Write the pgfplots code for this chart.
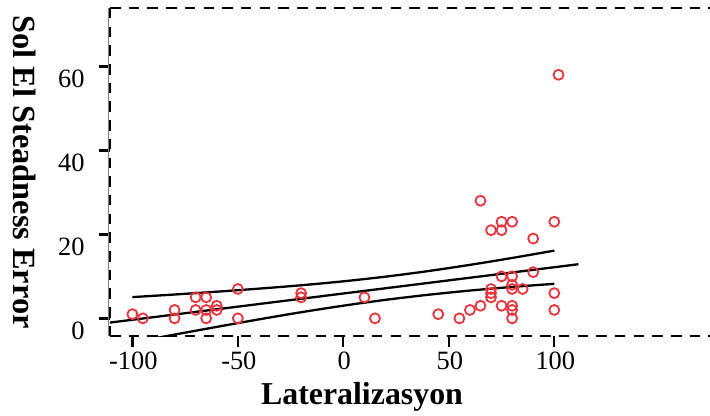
\documentclass[border=0pt]{standalone}
\usepackage{pgfplots}
\pgfplotsset{compat=1.18}
\usepackage{fontspec}
\setmainfont{Liberation Serif}
\definecolor{ptred}{RGB}{232,52,60}
\begin{document}
\begin{tikzpicture}
\begin{axis}[
  name=ax,
  scale only axis, width=600bp, height=328bp,
  xmin=-110.6, xmax=173.8, ymin=-4.2, ymax=73.9,
  axis line style={draw=none},
  xtick={-100,-50,0,50,100}, xticklabels={-100,-50,0,50,100},
  ytick={0,20,40,60}, yticklabels={0,20,40,60},
  xtick pos=bottom, ytick pos=left, tick align=outside,
  major tick length=11bp,
  tick style={black, line width=2.3bp},
  minor tick num=0,
  ticklabel style={font=\fontsize{26.5}{30}\selectfont},
  xticklabel style={xshift=1bp, yshift=-1bp},
  yticklabel style={yshift=-12bp, xshift=-11bp},
  xlabel={Lateralizasyon},
  ylabel={Sol El Steadness Error},
  every axis x label/.style={at={(rel axis cs:0.42,-0.185)}, anchor=center, font=\fontsize{32}{36}\selectfont\bfseries},
  every axis y label/.style={at={(rel axis cs:-0.142,0.5)}, anchor=center, rotate=-90, font=\fontsize{32.5}{36}\selectfont\bfseries},
]
\addplot[only marks, mark=o, mark size=5bp, color=ptred, mark options={line width=1.8bp}] coordinates {
(-100,1)(-95,0)(-80,2)(-80,0)(-70,5)(-65,5)(-70,2)(-65,2)(-65,0)(-60,3)(-60,2)
(-50,7)(-50,0)(-20,6)(-20,5)(10,5)(15,0)(45,1)(55,0)(60,2)(65,3)(65,28)
(70,21)(70,7)(70,6)(70,5)(75,23)(75,21)(75,10)(75,3)(80,23)(80,10)(80,8)
(80,7)(80,3)(80,2)(80,0)(85,7)(90,19)(90,11)(100,23)(100,6)(100,2)(102,58)
};
% regression line
\addplot[black, line width=2.3bp] coordinates {(-115,-1.28)(111.4,12.89)};
% upper confidence band
\addplot[black, line width=2.3bp, smooth] coordinates {
(-100,5.06)(-80,5.68)(-60,6.35)(-40,7.08)(-20,7.88)(0,8.82)(20,9.93)(40,11.24)(60,12.74)(80,14.38)(100,16.13)};
% lower confidence band
\addplot[black, line width=2.3bp, smooth] coordinates {
(-100,-5.74)(-80,-3.86)(-60,-2.03)(-40,-0.24)(-20,1.46)(0,3.02)(20,4.41)(40,5.60)(60,6.62)(80,7.48)(100,8.23)};
\end{axis}
\draw[gray, line width=0.6bp] ([xshift=-1.4bp]ax.south west) -- ([xshift=-1.4bp]ax.north west);
\draw[black, line width=2.6bp, dash pattern=on 10.5bp off 8.2bp] (ax.south west) -- (ax.south east);
\draw[black, line width=2.6bp, dash pattern=on 10.5bp off 8.2bp] (ax.north west) -- (ax.north east);
\draw[black, line width=2.6bp, dash pattern=on 10.5bp off 8.2bp] (ax.north west) -- (ax.south west);
\pgfresetboundingbox
\useasboundingbox ([shift={(-110bp,-80bp)}]ax.south west) rectangle ([yshift=8bp]ax.north east);
\end{tikzpicture}
\end{document}
